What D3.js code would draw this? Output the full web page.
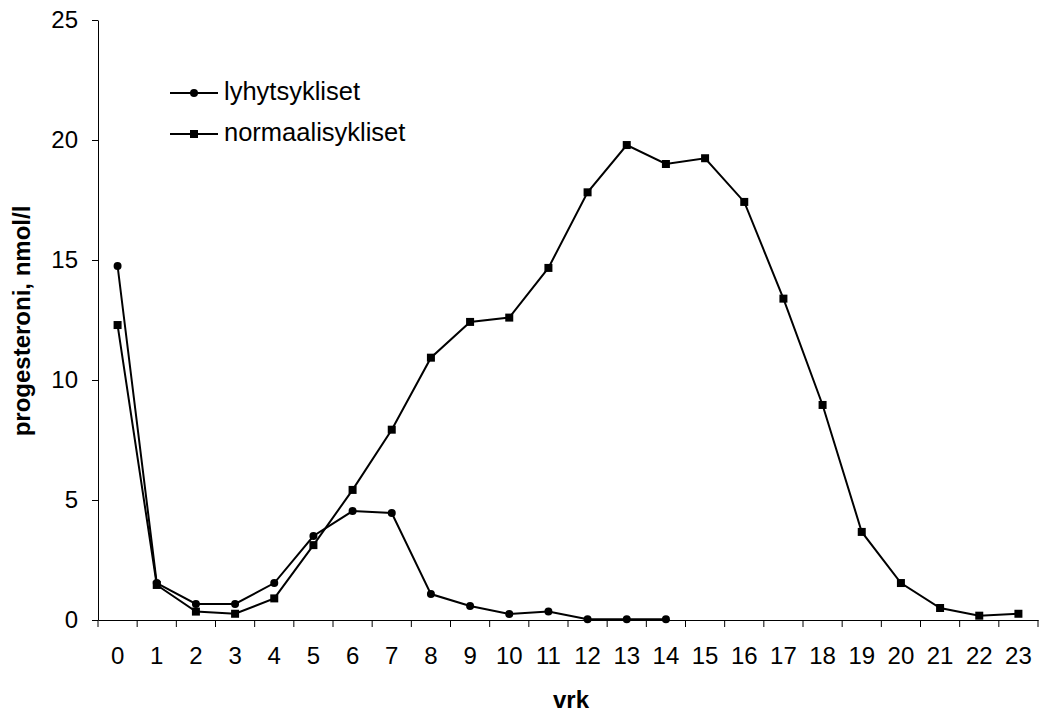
<!DOCTYPE html>
<html>
<head>
<meta charset="utf-8">
<script src="https://cdn.jsdelivr.net/npm/d3@7"></script>
<style>
  body { margin: 0; background: #fff; }
  text { font-family: "Liberation Sans", Arial, sans-serif; fill: #000; }
</style>
</head>
<body>
<div id="chart"></div>
<script>
// päivät (vrk) ja sarjat
const days = d3.range(0, 24).map(String);
const lyhyt = [14.75, 1.54, 0.67, 0.67, 1.54, 3.5, 4.54, 4.46, 1.08, 0.58, 0.25, 0.35, 0.03, 0.03, 0.03];
const normaali = [12.29, 1.46, 0.35, 0.26, 0.9, 3.12, 5.42, 7.93, 10.93, 12.42, 12.6, 14.67, 17.82, 19.79, 19.0, 19.24, 17.42, 13.39, 8.96, 3.67, 1.54, 0.5, 0.18, 0.26];
const yTicks = [0, 5, 10, 15, 20, 25];
const seriesNames = ['lyhytsykliset', 'normaalisykliset'];

const W = 1043, H = 713;
const margin = {top: 20, right: 5, bottom: 93, left: 98};
const h = H - margin.top - margin.bottom;

const svg = d3.select('#chart').append('svg')
  .attr('width', W).attr('height', H);
const g = svg.append('g').attr('transform', `translate(${margin.left},${margin.top})`);

const x = d3.scaleBand().domain(days).range([0, 940]).padding(0);
const y = d3.scaleLinear().domain([0, 25]).range([h, 0]);
const cx = d => x(d) + x.bandwidth() / 2;

// y-akseli
const yAxis = g.append('g')
  .call(d3.axisLeft(y).tickValues(yTicks).tickSize(6).tickPadding(14).tickSizeOuter(0));
yAxis.select('.domain').attr('stroke', '#000').attr('stroke-width', 1);
yAxis.selectAll('.tick line').attr('stroke', '#000');
yAxis.selectAll('.tick text').style('font-size', '24px');

// x-akseli: nimikkeet keskellä, jakoviivat rajoilla
const xAxis = g.append('g').attr('transform', `translate(0,${h})`)
  .call(d3.axisBottom(x).tickSize(0).tickPadding(0));
xAxis.select('.domain').attr('stroke', '#000').attr('stroke-width', 1);
xAxis.selectAll('.tick text').style('font-size', '24px')
  .attr('dy', null).attr('y', 44);
xAxis.selectAll('.bound')
  .data(days.map(d => x(d)).concat([x.range()[1]]))
  .enter().append('line')
  .attr('x1', d => d).attr('x2', d => d)
  .attr('y1', 0).attr('y2', 7)
  .attr('stroke', '#000');

// akselien otsikot
svg.append('text')
  .attr('x', 571)
  .attr('y', 708)
  .attr('text-anchor', 'middle')
  .style('font-size', '24px').style('font-weight', 'bold')
  .text('vrk');
svg.append('text')
  .attr('transform', 'translate(30,321) rotate(-90)')
  .attr('text-anchor', 'middle')
  .style('font-size', '24px').style('font-weight', 'bold')
  .text('progesteroni, nmol/l');

const line = d3.line().x((d, i) => cx(days[i])).y(d => y(d));

// lyhytsykliset
g.append('path').datum(lyhyt)
  .attr('fill', 'none').attr('stroke', '#000').attr('stroke-width', 2)
  .attr('d', line);
g.selectAll('.dot').data(lyhyt).enter().append('circle')
  .attr('cx', (d, i) => cx(days[i])).attr('cy', d => y(d))
  .attr('r', 4).attr('fill', '#000');

// normaalisykliset
g.append('path').datum(normaali)
  .attr('fill', 'none').attr('stroke', '#000').attr('stroke-width', 2)
  .attr('d', line);
g.selectAll('.sq').data(normaali).enter().append('rect')
  .attr('x', (d, i) => cx(days[i]) - 4).attr('y', d => y(d) - 4)
  .attr('width', 8).attr('height', 8).attr('fill', '#000');

// selite
const leg = svg.append('g').attr('transform', 'translate(170,93)');
seriesNames.forEach((name, i) => {
  const row = leg.append('g').attr('transform', `translate(0,${i * 41})`);
  row.append('line').attr('x1', 0).attr('x2', 48).attr('y1', 0).attr('y2', 0)
    .attr('stroke', '#000').attr('stroke-width', 2);
  if (i === 0) row.append('circle').attr('cx', 24).attr('cy', 0).attr('r', 4).attr('fill', '#000');
  else row.append('rect').attr('x', 20).attr('y', -4).attr('width', 8).attr('height', 8).attr('fill', '#000');
  row.append('text').attr('x', 54).attr('y', 7).style('font-size', '25.5px').text(name);
});
</script>
</body>
</html>
